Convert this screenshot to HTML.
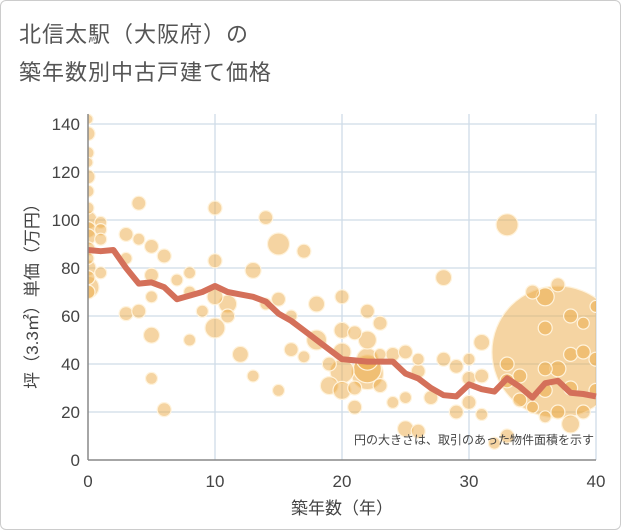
<!DOCTYPE html>
<html><head><meta charset="utf-8"><style>
body{margin:0;background:#fff;font-family:"Liberation Sans","Noto Sans CJK JP",sans-serif}
#wrap{position:relative;width:619px;height:528px;border:1px solid #ccc;border-radius:6px;overflow:hidden}
.t{position:absolute;left:18px;font-size:22px;color:#555;letter-spacing:1px}
</style></head><body>
<div id="wrap">
<div class="t" style="top:16px">北信太駅（大阪府）の</div>
<div class="t" style="top:54px">築年数別中古戸建て価格</div>
<svg id="c" width="621" height="530" style="position:absolute;left:-1px;top:-1px"><defs><clipPath id="pc"><rect x="88" y="100" width="508" height="360"/></clipPath></defs><g id="bub" clip-path="url(#pc)"></g></svg>
</div>
<script>
const xTicks=[0,10,20,30,40];
const yTicks=[0,20,40,60,80,100,120,140];
const lineYears=[0,1,2,3,4,5,6,7,8,9,10,11,12,13,14,15,16,17,18,19,20,21,22,23,24,25,26,27,28,29,30,31,32,33,34,35,36,37,38,39,40];
const lineValues=[87.5,87,87.5,80,73.5,74,72,67,68.5,70,72.5,70,69,68,66,61,58,54,50,46,42,41.5,41,41,41,36,34,30,27,26.5,31.5,29.5,28.5,34,30.5,26,32,33,28,27.5,26.5];
const bubbleYears=[0,0,0,0,0,0,0,0,0,0,0,0,0,0,0,0,1,1,1,1,3,3,3,4,4,4,5,5,5,5,5,6,6,7,8,8,8,9,10,10,10,10,11,11,12,13,13,14,14,15,15,15,16,16,17,17,18,18,19,19,20,20,20,20,20,21,21,21,22,22,22,22,22,23,23,23,24,24,25,25,25,26,26,26,27,28,28,29,29,30,30,30,31,31,31,32,33,33,33,34,34,35,35,36,36,36,36,37,37,37,38,38,38,38,39,39,39,40,40,40,36,33,37];
const bubbleValues=[142,136,128,124,118,112,105,100,96,93,88,84,80,76,72,70,99,96,92,78,94,84,61,107,92,62,89,77,68,52,34,85,21,75,78,70,50,62,105,83,68,55,65,60,44,79,35,101,65,90,67,29,60,46,87,43,65,50,40,31,68,54,45,37,29,53,30,22,62,50,42,38,36,57,44,31,44,24,45,26,13,42,37,12,26,76,42,39,20,42,34,24,49,35,19,7,98,40,10,35,25,70,22,68,55,29,18,73,38,20,60,44,30,15,57,45,20,64,42,29,38,33,45];
const bubbleR=[5,7,6,5,7,6,6,9,8,8,7,6,8,7,11,7,6,6,6,6,7,6,7,7,6,7,7,7,6,8,6,7,7,6,6,6,6,6,7,7,8,10,9,7,8,8,6,7,6,11,7,6,6,7,7,6,8,10,7,9,7,8,9,12,9,7,7,7,7,9,11,14,16,7,6,7,7,6,7,6,8,6,7,7,7,8,7,7,7,6,7,7,8,7,6,6,11,7,7,7,7,7,6,9,7,7,6,7,8,7,7,7,7,9,6,7,7,6,7,7,7,7,66];
const svg=document.getElementById('c');const bub=document.getElementById('bub');const NS='http://www.w3.org/2000/svg';
const X0=88,X1=596,Y0=460,Y1=124;
const sx=v=>X0+(X1-X0)*v/40, sy=v=>Y0-(Y0-Y1)*v/140;
function mk(t,a,p){const e=document.createElementNS(NS,t);for(const k in a)e.setAttribute(k,a[k]);(p||svg).appendChild(e);return e;}
yTicks.forEach(v=>{if(v>0){const g=mk('line',{x1:X0,x2:X1,y1:sy(v),y2:sy(v),stroke:'#cfdce8','stroke-width':1.3});

}
const t=mk('text',{x:X0-8,y:sy(v)+6,'text-anchor':'end','font-size':17,fill:'#444'});t.textContent=v;

});
xTicks.forEach(v=>{if(v>0){const g=mk('line',{x1:sx(v),x2:sx(v),y1:Y1-10,y2:Y0,stroke:'#cfdce8','stroke-width':1.3});

}
const t=mk('text',{x:sx(v),y:Y0+27,'text-anchor':'middle','font-size':17,fill:'#444'});t.textContent=v;

});
svg.appendChild(bub);
const order=bubbleR.map((r,i)=>i).sort((a,b)=>bubbleR[b]-bubbleR[a]);
order.forEach(i=>{const c=mk('circle',{cx:sx(bubbleYears[i]),cy:sy(bubbleValues[i]),r:bubbleR[i],fill:'rgba(236,170,70,0.5)',stroke:'#fff3dc','stroke-width':1.2},bub);

});
const pl=mk('polyline',{points:lineYears.map((y,i)=>sx(y)+','+sy(lineValues[i])).join(' '),fill:'none',stroke:'#d4705a','stroke-width':6,'stroke-linejoin':'round'});


const ax=mk('line',{x1:X0,x2:X0,y1:Y1-10,y2:Y0,stroke:'#888','stroke-width':1.5});


const ax2=mk('line',{x1:X0,x2:X1,y1:Y0,y2:Y0,stroke:'#888','stroke-width':1.5});


const note=mk('text',{x:594,y:444,'text-anchor':'end','font-size':12,fill:'#444'});note.textContent='円の大きさは、取引のあった物件面積を示す';


const xt=mk('text',{x:342,y:514,'text-anchor':'middle','font-size':17,fill:'#444'});xt.textContent='築年数（年）';


const yt=mk('text',{x:38,y:292,'text-anchor':'middle','font-size':17,fill:'#444',transform:'rotate(-90 38 292)'});yt.textContent='坪（3.3㎡）単価（万円）';


</script>
</body></html>
